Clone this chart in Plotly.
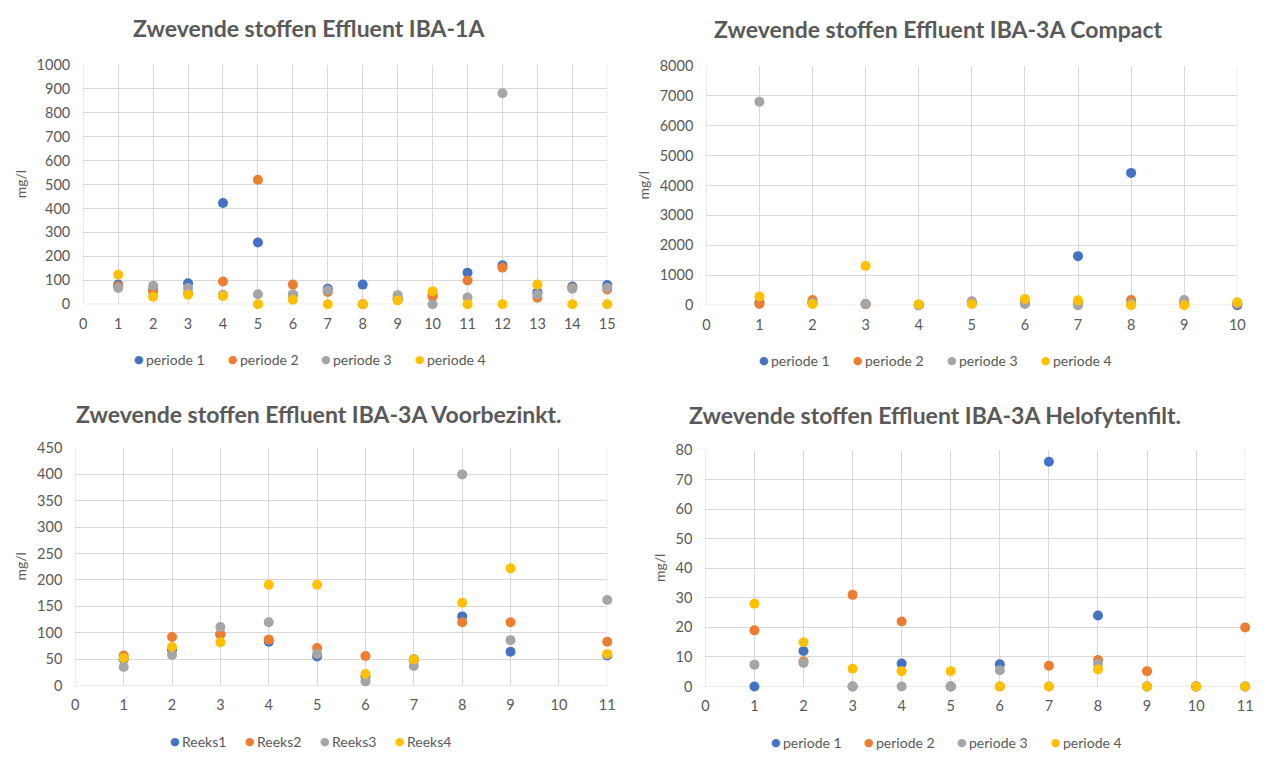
import plotly.graph_objects as go

# ---------------- data ----------------
x1 = list(range(1, 16))
c1_p1 = [82, 60, 88, 423, 258, 40, 65, 82, 25, 40, 132, 163, 50, 74, 80]
c1_p2 = [75, 54, 45, 95, 520, 82, 51, 0, 20, 31, 99, 153, 27, 68, 62]
c1_p3 = [68, 77, 68, 40, 42, 42, 58, 0, 38, 0, 28, 881, 41, 65, 69]
c1_p4 = [123, 31, 40, 34, 0, 19, 0, 0, 16, 54, 0, 0, 82, 0, 0]

x2 = list(range(1, 11))
c2_p1 = [80, 100, 40, 0, 100, 60, 1640, 4420, 100, 0]
c2_p2 = [43, 174, 30, 20, 80, 80, 100, 174, 80, 40]
c2_p3 = [6800, 87, 43, 20, 130, 43, 0, 60, 174, 60]
c2_p4 = [293, 43, 1314, 22, 43, 206, 163, 0, 0, 98]

x3 = [1, 2, 3, 4, 5, 6, 7, 8, 9, 11]
c3_r1 = [50, 68, 97, 83, 55, 17, 50, 131, 64, 57]
c3_r2 = [57, 92, 97, 87, 71, 56, 48, 120, 120, 83]
c3_r3 = [35, 58, 111, 120, 60, 8, 37, 400, 86, 162]
c3_r4 = [52, 73, 82, 191, 191, 22, 50, 157, 222, 60]

x4 = list(range(1, 12))
c4_p1 = [0, 12, 0, 7.8, 0, 7.5, 76, 24, 0, 0, 0]
c4_p2 = [19, 8.5, 31, 22, 0, 0, 7, 9, 5.2, 0, 20]
c4_p3 = [7.4, 8, 0, 0, 0, 5.5, 0, 7.6, 0, 0, 0]
c4_p4 = [28, 15, 6, 5.2, 5.2, 0, 0, 5.8, 0, 0, 0]

titles = ["Zwevende stoffen Effluent IBA-1A",
          "Zwevende stoffen Effluent IBA-3A Compact",
          "Zwevende stoffen Effluent IBA-3A Voorbezinkt.",
          "Zwevende stoffen Effluent IBA-3A Helofytenfilt."]
names_periode = ["periode 1", "periode 2", "periode 3", "periode 4"]
names_reeks = ["Reeks1", "Reeks2", "Reeks3", "Reeks4"]
colors = ["#4472C4", "#ED7D31", "#A5A5A5", "#FFC000"]

charts = [
    (x1, [c1_p1, c1_p2, c1_p3, c1_p4], names_periode, 15, 1000, 100),
    (x2, [c2_p1, c2_p2, c2_p3, c2_p4], names_periode, 10, 8000, 1000),
    (x3, [c3_r1, c3_r2, c3_r3, c3_r4], names_reeks, 11, 450, 50),
    (x4, [c4_p1, c4_p2, c4_p3, c4_p4], names_periode, 11, 80, 10),
]

W, H = 1276, 762
# plot area pixel boxes (left, right, top, bottom)
boxes = [(80, 609, 57, 302), (709, 1245, 58, 303),
         (72, 609, 449, 692), (708, 1253, 451, 693)]
title_pos = [(308, 19), (943, 20), (318, 414), (940, 415)]
legend_dots = [([136, 231, 325, 420], 359), ([767, 862, 957, 1052], 360),
               ([173, 248, 324, 400], 749), ([779, 873, 967, 1062], 750)]
ytitle_x = [17, 646, 17, 661]

FONT = "Lato"
TXT = "#595959"
GRID = "#D9D9D9"

fig = go.Figure()
layout = dict(width=W, height=H, margin=dict(l=0, r=0, t=0, b=0),
              paper_bgcolor="white", plot_bgcolor="white", showlegend=False,
              font=dict(family=FONT, color=TXT), annotations=[])

for i, (xs, series, names, xmax, ymax, ydt) in enumerate(charts):
    k = "" if i == 0 else str(i + 1)
    for s, (ys, nm) in enumerate(zip(series, names)):
        fig.add_trace(go.Scatter(
            x=xs, y=ys, mode="markers", name=nm,
            marker=dict(color=colors[s], size=10, line=dict(width=0)),
            xaxis="x" + k, yaxis="y" + k, cliponaxis=False))
    l, r, t, b = boxes[i]
    layout["xaxis" + k] = dict(
        domain=[l / W, r / W], range=[0, xmax], dtick=1, tick0=0,
        showgrid=True, gridcolor=GRID, gridwidth=1, zeroline=False,
        showline=False, ticks="", ticklabelstandoff=9,
        tickfont=dict(size=14.5, color=TXT, family=FONT),
        anchor="y" + k, fixedrange=True)
    layout["yaxis" + k] = dict(
        domain=[1 - b / H, 1 - t / H], range=[0, ymax], dtick=ydt, tick0=0,
        showgrid=True, gridcolor=GRID, gridwidth=1, zeroline=False,
        showline=False, ticks="", ticklabelstandoff=12,
        tickfont=dict(size=14.5, color=TXT, family=FONT),
        anchor="x" + k, fixedrange=True)
    # title
    tx, ty = title_pos[i]
    layout["annotations"].append(dict(
        text="<b>" + titles[i] + "</b>", x=tx / W, y=1 - ty / H,
        xref="paper", yref="paper", showarrow=False,
        xanchor="center", yanchor="middle",
        font=dict(size=23, color=TXT, family=FONT)))
    # y axis title
    layout["annotations"].append(dict(
        text="mg/l", x=ytitle_x[i] / W, y=1 - (t + b) / 2 / H,
        xref="paper", yref="paper", showarrow=False, textangle=-90,
        xanchor="center", yanchor="middle",
        font=dict(size=14, color=TXT, family=FONT)))
    # legend (one entry per series)
    dots, ly = legend_dots[i]
    for s, nm in enumerate(names):
        layout["annotations"].append(dict(
            text="●", x=dots[s] / W, y=1 - ly / H,
            xref="paper", yref="paper", showarrow=False,
            xanchor="center", yanchor="middle", borderpad=0,
            font=dict(size=11, color=colors[s], family="DejaVu Sans")))
        layout["annotations"].append(dict(
            text=nm, x=(dots[s] + 6) / W, y=1 - ly / H,
            xref="paper", yref="paper", showarrow=False,
            xanchor="left", yanchor="middle", borderpad=0,
            font=dict(size=14, color=TXT, family=FONT)))
    # plot-area outline: left, right, bottom
    for (x0, x1_, y0, y1_) in [(0, 0, 0, ymax), (xmax, xmax, 0, ymax), (0, xmax, 0, 0)]:
        fig.add_shape(type="line", xref="x" + k, yref="y" + k,
                      x0=x0, x1=x1_, y0=y0, y1=y1_,
                      line=dict(color=GRID, width=1), layer="below")

fig.update_layout(**layout)
fig.write_html("out.html",
               post_script="document.body.style.margin='0';"
                           "document.body.style.overflow='hidden';")
